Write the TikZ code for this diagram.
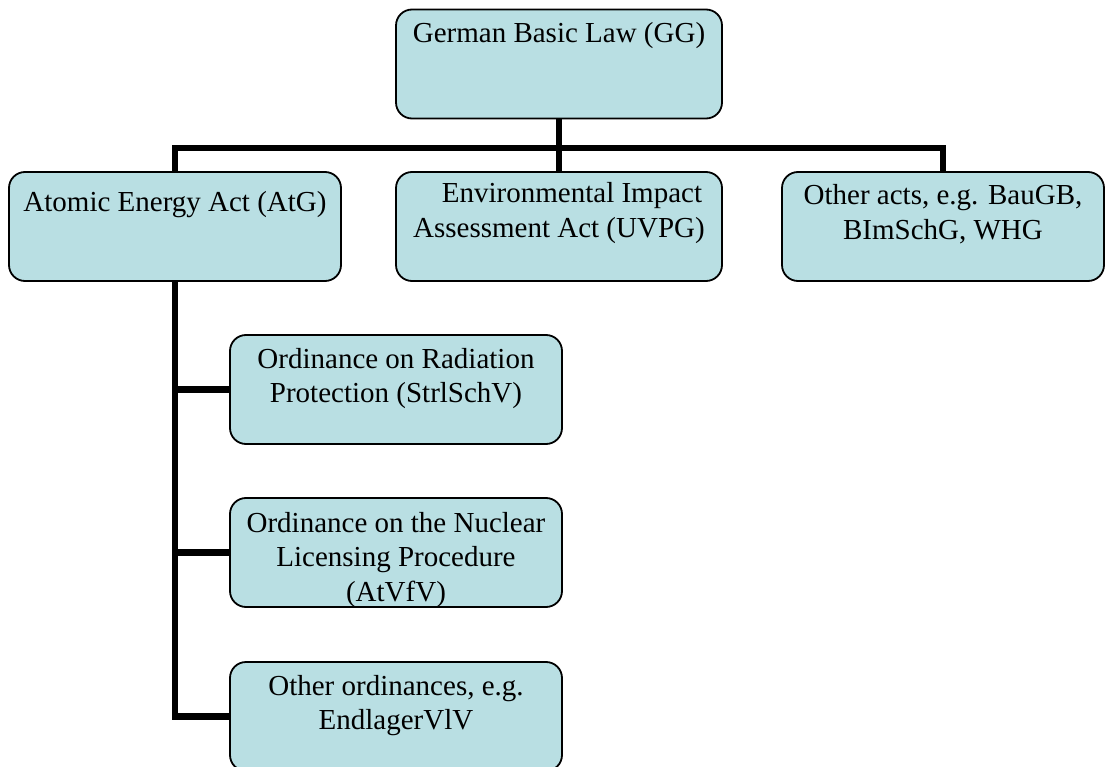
\documentclass[tikz,border=0pt]{standalone}
\usepackage{fontspec}
\setmainfont{Liberation Serif}
\usetikzlibrary{positioning}
\definecolor{lawfill}{RGB}{185,223,227}
% box text: top aligned, first baseline given by the strut
\newcommand{\lawlabel}[3][33pt]{\parbox[c][109pt][t]{#2}{\centering\rule{0pt}{#1}#3}}

\begin{document}
\begin{tikzpicture}[
    x=1pt, y=-1pt,
    font=\fontsize{29}{34.5}\selectfont,
    lawbox/.style={draw=black, line width=1.8pt, fill=lawfill, rounded corners=16pt, inner sep=0pt},
    link/.style={line width=6.5pt}
]
\clip (0,0) rectangle (1106,767);

\node[lawbox] (gg) at (559,64) {\lawlabel{326pt}{German Basic Law (GG)}};

\node[lawbox] (atg) at (175,226.5) {\lawlabel[40pt]{332pt}{Atomic Energy Act (AtG)}};
\node[lawbox] (uvpg) at (559,226.5) {\lawlabel[31pt]{326pt}{\hspace*{26pt}Environmental Impact\\Assessment Act (UVPG)}};
\node[lawbox] (other) at (943,226.5) {\lawlabel{322pt}{Other acts, e.g. BauGB,\\BImSchG, WHG}};

\node[lawbox] (strl) at (396,389.5) {\lawlabel{332pt}{Ordinance on Radiation\\Protection (StrlSchV)}};
\node[lawbox] (atvfv) at (396,552.5) {\lawlabel[34pt]{332pt}{Ordinance on the Nuclear\\Licensing Procedure\\(AtVfV)}};
\node[lawbox] (endl) at (396,716.5) {\lawlabel{332pt}{Other ordinances, e.g.\\EndlagerVlV}};

\draw[link] (gg.south) -- (uvpg.north);
\draw[link] (atg.north) -- ++(0,-23) -| (other.north);
\draw[link] (atg.south) |- (endl.west);
\draw[link] (atg.south |- strl.west) -- (strl.west);
\draw[link] (atg.south |- atvfv.west) -- (atvfv.west);

\end{tikzpicture}
\end{document}
